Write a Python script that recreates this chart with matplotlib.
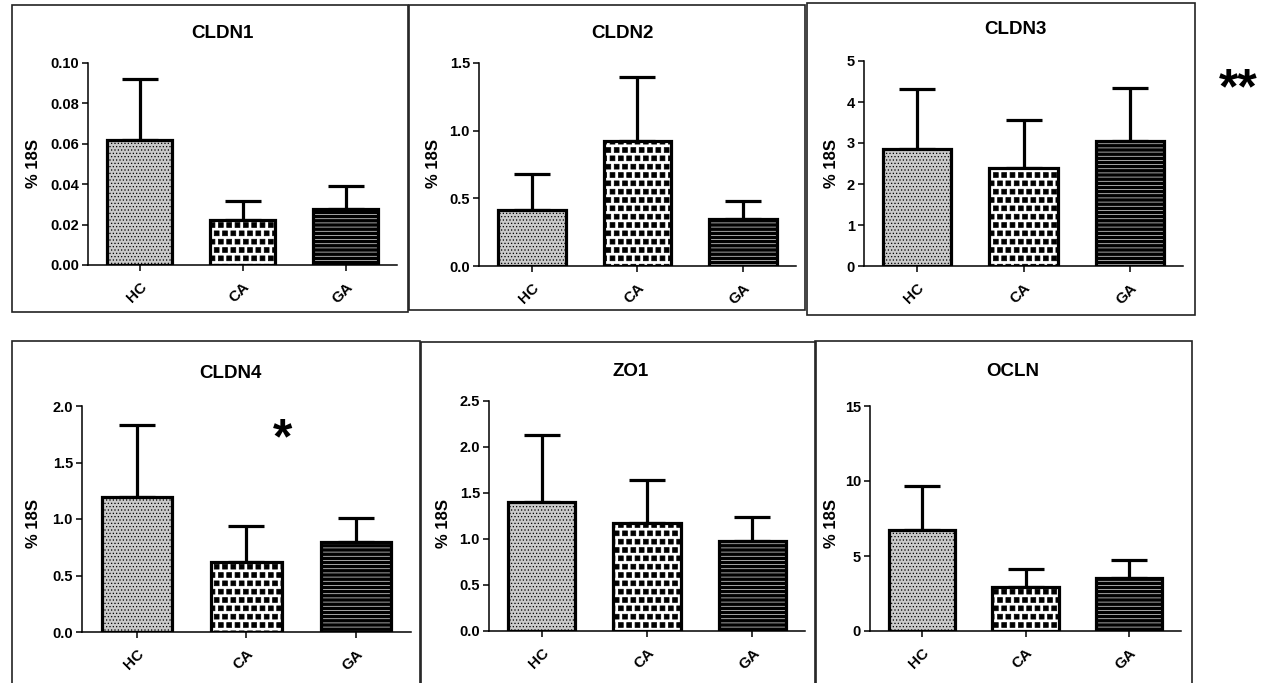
import numpy as np
import matplotlib
matplotlib.use("Agg")
import matplotlib.pyplot as plt
import matplotlib.hatch as mhatch
from matplotlib.path import Path
from matplotlib.patches import Rectangle

plt.rcParams['font.family'] = ['Liberation Sans', 'DejaVu Sans']
plt.rcParams['font.weight'] = 'bold'

# ---------------- data ----------------
groups = ["HC", "CA", "GA"]
titles = ["CLDN1", "CLDN2", "CLDN3", "CLDN4", "ZO1", "OCLN"]

cldn1_mean = [0.0619, 0.0223, 0.0277]
cldn1_err = [0.0300, 0.0095, 0.0116]
cldn2_mean = [0.414, 0.925, 0.345]
cldn2_err = [0.264, 0.475, 0.133]
cldn3_mean = [2.85, 2.38, 3.05]
cldn3_err = [1.46, 1.18, 1.28]
cldn4_mean = [1.197, 0.622, 0.794]
cldn4_err = [0.633, 0.316, 0.216]
zo1_mean = [1.40, 1.17, 0.975]
zo1_err = [0.73, 0.47, 0.265]
ocln_mean = [6.73, 2.96, 3.51]
ocln_err = [2.96, 1.15, 1.22]

ytick_sets = [
    [0.00, 0.02, 0.04, 0.06, 0.08, 0.10],
    [0.0, 0.5, 1.0, 1.5],
    [0, 1, 2, 3, 4, 5],
    [0.0, 0.5, 1.0, 1.5, 2.0],
    [0.0, 0.5, 1.0, 1.5, 2.0, 2.5],
    [0, 5, 10, 15],
]
ytick_fmt = ["{:.2f}", "{:.1f}", "{:.0f}", "{:.1f}", "{:.1f}", "{:.0f}"]
significance = ["", "", "**", "*", "", ""]

means = [cldn1_mean, cldn2_mean, cldn3_mean, cldn4_mean, zo1_mean, ocln_mean]
errs = [cldn1_err, cldn2_err, cldn3_err, cldn4_err, zo1_err, ocln_err]

# ---------------- custom square hatch (replaces '*') ----------------
class _Squares(mhatch.Shapes):
    size = 0.29
    filled = True

    def __init__(self, hatch, density):
        self.num_rows = hatch.count('*') * density
        self.shape_vertices = np.array([[-1, -1], [1, -1], [1, 1], [-1, 1], [-1, -1]], float)
        self.shape_codes = np.array([Path.MOVETO, Path.LINETO, Path.LINETO,
                                     Path.LINETO, Path.CLOSEPOLY], dtype=Path.code_type)
        super().__init__(hatch, density)

mhatch._hatch_types = [(_Squares if t is mhatch.Stars else t) for t in mhatch._hatch_types]

# ---------------- layout (pixels) ----------------
W, H = 1262, 683
fig = plt.figure(figsize=(W / 100, H / 100), dpi=100)

# axes: x_left, x_right, y_top, y_bottom
axes_px = [
    (88, 397, 63, 265),
    (479, 796, 63, 266),
    (864, 1183, 61, 266),
    (82, 411, 406, 632),
    (489, 805, 401, 631),
    (870, 1181, 406, 631),
]
boxes_px = [
    (12, 5, 408, 312),
    (409, 5, 805, 310),
    (807, 3, 1195, 315),
    (12, 341, 420, 720),
    (421, 342, 816, 720),
    (815, 341, 1192, 720),
]
title_px = [(222, 33), (622, 33), (1015, 30), (230, 373), (631, 372), (1013, 372)]
ylabel_px = [(34, 163), (434, 163), (832, 163), (34, 523), (444, 523), (831, 523)]
sig_px = [None, None, (1238, 90), (283, 440), None, None]

def fx(x):
    return x / W

def fy(y):
    return 1 - y / H

for (l, t, r, b) in boxes_px:
    fig.add_artist(Rectangle((fx(l), fy(b)), fx(r) - fx(l), fy(t) - fy(b),
                             transform=fig.transFigure, fill=False,
                             edgecolor='#222222', linewidth=1.2, zorder=0))

xpos = np.arange(len(groups))
bar_w = 0.64

for i in range(6):
    x0, x1, yt, yb = axes_px[i]
    ax = fig.add_axes([fx(x0), fy(yb), fx(x1) - fx(x0), fy(yt) - fy(yb)])
    ax.set_facecolor('none')
    m = np.array(means[i])
    e = np.array(errs[i])

    # error bars (upper only), behind bars
    ax.errorbar(xpos, m, yerr=[np.zeros_like(e), e], fmt='none', ecolor='black',
                elinewidth=2.3, capsize=13, capthick=2.3, zorder=1)

    # HC: fine stipple
    b0 = ax.bar(xpos[0], m[0], width=bar_w, facecolor='#cacaca', edgecolor='black',
                hatch='.....', linewidth=0, zorder=2)
    # CA: checker squares
    b1 = ax.bar(xpos[1], m[1], width=bar_w, facecolor='white', edgecolor='black',
                hatch='**', linewidth=0, zorder=2)
    # GA: black with white horizontal lines
    b2 = ax.bar(xpos[2], m[2], width=bar_w, facecolor='black', edgecolor='white',
                hatch='----', linewidth=0, zorder=2)
    for bc, hl in ((b0, 0.5), (b1, 0.5), (b2, 0.45)):
        for p in bc:
            if hasattr(p, 'set_hatch_linewidth'):
                p.set_hatch_linewidth(hl)
    # outlines
    ax.bar(xpos, m, width=bar_w, facecolor='none', edgecolor='black',
           linewidth=2.3, zorder=3)

    ax.set_xlim(-0.5, 2.5)
    ax.set_ylim(ytick_sets[i][0], ytick_sets[i][-1])
    ax.set_yticks(ytick_sets[i])
    ax.set_yticklabels([ytick_fmt[i].format(v) for v in ytick_sets[i]],
                       fontsize=10.5, fontweight='bold')
    ax.set_xticks(xpos)
    ax.set_xticklabels(groups, rotation=45, ha='right', va='top',
                       rotation_mode='anchor', fontsize=11, fontweight='bold')
    ax.tick_params(axis='both', direction='out', length=4.5, width=1.1, pad=2)
    ax.tick_params(axis='x', pad=6)
    for s in ('top', 'right'):
        ax.spines[s].set_visible(False)
    for s in ('left', 'bottom'):
        ax.spines[s].set_linewidth(1.1)

    tx, ty = title_px[i]
    fig.text(fx(tx), fy(ty), titles[i], ha='center', va='center',
             fontsize=13.5, fontweight='bold')
    lx, ly = ylabel_px[i]
    fig.text(fx(lx), fy(ly), "% 18S", ha='center', va='center', rotation=90,
             fontsize=12, fontweight='bold')
    if significance[i]:
        sx, sy = sig_px[i]
        fig.text(fx(sx), fy(sy), significance[i], ha='center', va='center',
                 fontsize=36, fontweight='bold')

fig.savefig("out.png", dpi=100)
